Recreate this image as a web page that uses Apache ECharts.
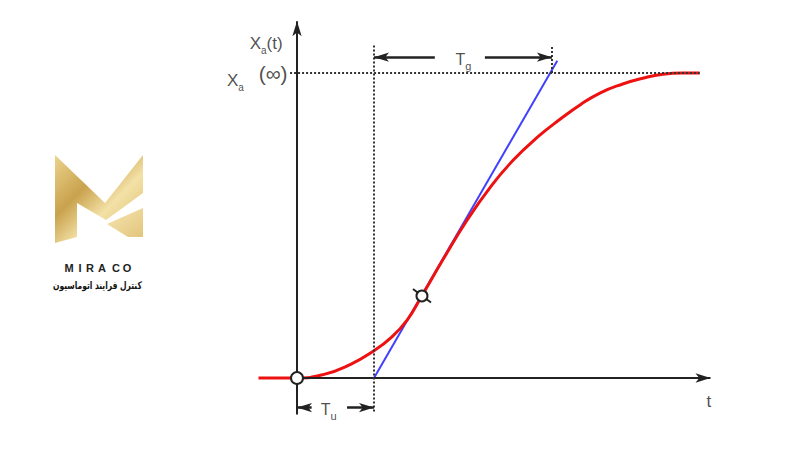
<!DOCTYPE html>
<html>
<head>
<meta charset="utf-8">
<script src="https://cdn.jsdelivr.net/npm/echarts@6/dist/echarts.min.js"></script>
<style>html,body{margin:0;padding:0;background:#fff}#c{width:800px;height:450px}</style>
</head>
<body>
<div id="c"></div>
<script>
// Step response (normalised: Xa(inf) = 1, time unit = Tu)
const curveT = [-0.5, 0, 0.34, 0.69, 0.99, 1.21, 1.43, 1.62, 1.90, 2.21, 2.50, 2.80, 3.13, 3.42, 3.68, 3.94, 4.23, 4.49, 4.75, 5.01, 5.23];
const curveY = [0, 0, 0.011, 0.044, 0.088, 0.130, 0.190, 0.269, 0.390, 0.518, 0.622, 0.712, 0.791, 0.849, 0.896, 0.935, 0.964, 0.983, 0.996, 1.0, 1.0];
const tangentT = [1.0, 3.38];
const tangentY = [0, 1.04];
const inflection = [1.623, 0.269];
const Tu = 1.0;
const TgEnd = 3.31;
const xInf = 1.0;
const labelT = [-0.40, -0.80, -0.31, 2.16, 0.41, 5.35];
const labelY = [1.105, 0.985, 1.0, 1.052, -0.097, -0.068];
const labelText = ['{b|X}{s|a}{b|(t)}', '{b|X}{s|a}', '{p|(\u221e)}', '{t|T}{ts|g}', '{t|T}{ts|u}', '{b|t}'];
const brandLetters = ['M', 'I', 'R', 'A', 'C', 'O'];
const brandX = [69, 80, 90, 102, 116, 127];

const ink = '#222';
const chart = echarts.init(document.getElementById('c'), null, {renderer: 'svg'});

const axisStyle = {color: ink, width: 2, type: 'solid'};
const dotStyle = {color: '#333', width: 2, type: [2, 2]};
const arrowStyle = {color: ink, width: 2.5, type: 'solid'};

function seg(a, b, style, sym) {
  return [{coord: a, symbol: sym[0], lineStyle: style}, {coord: b, symbol: sym[1]}];
}

const graphics = [
  {type: 'polygon', shape: {points: [[55,155],[105,203],[143,155],[143,193],[106,220],[77,203],[77,237],[55,243]]},
    style: {fill: new echarts.graphic.LinearGradient(0, 0, 1, 1, [
      {offset: 0, color: '#ecd48e'}, {offset: 0.35, color: '#c9a24d'}, {offset: 0.6, color: '#f3e1a6'}, {offset: 1, color: '#d8b664'}])}},
  {type: 'polygon', shape: {points: [[107,224],[143,208],[143,237],[128,237]]},
    style: {fill: new echarts.graphic.LinearGradient(0, 0, 1, 1, [
      {offset: 0, color: '#f6e6b4'}, {offset: 1, color: '#e2c57a'}])}},
  {type: 'text', left: 53, top: 280, scaleX: 0.72, originX: 53,
    style: {text: 'کنترل فرایند اتوماسیون', fontSize: 10.5, fontWeight: 'bold', fill: '#111', fontFamily: 'DejaVu Sans'}}
];
brandLetters.forEach((ch, i) => graphics.push({
  type: 'text', x: brandX[i], y: 268,
  style: {text: ch, fontSize: 11, fontWeight: 'bold', fill: '#222', fontFamily: 'Liberation Sans', textAlign: 'center', textVerticalAlign: 'middle'}
}));

const option = {
  animation: false,
  backgroundColor: '#fff',
  grid: {left: 220, right: 79.5, top: 12, bottom: 11},
  xAxis: {type: 'value', min: -1.0, max: 5.5, show: false},
  yAxis: {type: 'value', min: -0.2, max: 1.2, show: false},
  graphic: graphics,
  series: [
    {
      name: 'guides', type: 'line', data: [], silent: true,
      markLine: {
        silent: true, symbolSize: [7, 15], label: {show: false}, animation: false,
        data: [
          seg([0, -0.12], [0, 1.17], axisStyle, ['none', 'arrow']),
          seg([0, 0], [5.37, 0], axisStyle, ['none', 'arrow']),
          seg([-0.09, xInf], [5.23, xInf], dotStyle, ['none', 'none']),
          seg([Tu, -0.11], [Tu, 1.092], dotStyle, ['none', 'none']),
          seg([TgEnd, xInf], [TgEnd, 1.092], dotStyle, ['none', 'none']),
          seg([1.79, 1.052], [Tu, 1.052], arrowStyle, ['none', 'arrow']),
          seg([2.44, 1.052], [TgEnd, 1.052], arrowStyle, ['none', 'arrow']),
          seg([0.19, -0.097], [0, -0.097], arrowStyle, ['none', 'arrow']),
          seg([0.65, -0.097], [Tu, -0.097], arrowStyle, ['none', 'arrow'])
        ]
      }
    },
    {
      name: 'tangent', type: 'line', showSymbol: false, z: 3,
      data: tangentT.map((t, i) => [t, tangentY[i]]),
      lineStyle: {color: '#4040ff', width: 2}
    },
    {
      name: 'response', type: 'line', showSymbol: false, smooth: 0.5, z: 4,
      data: curveT.map((t, i) => [t, curveY[i]]),
      lineStyle: {color: '#ee1111', width: 3}
    },
    {
      name: 'origin', type: 'scatter', z: 6,
      data: [[0, 0]], symbol: 'circle', symbolSize: 12,
      itemStyle: {color: '#fff', borderColor: ink, borderWidth: 2, opacity: 1}
    },
    {
      name: 'inflection', type: 'custom', z: 6,
      data: [inflection],
      renderItem: function (params, api) {
        const p = api.coord([api.value(0), api.value(1)]);
        return {type: 'group', children: [
          {type: 'line', shape: {x1: p[0] - 9, y1: p[1] - 7, x2: p[0] + 9, y2: p[1] + 6.5}, style: {stroke: ink, lineWidth: 2}},
          {type: 'circle', shape: {cx: p[0], cy: p[1], r: 5.5}, style: {fill: '#fff', stroke: ink, lineWidth: 2}}
        ]};
      }
    },
    {
      name: 'labels', type: 'scatter', symbolSize: 0, z: 7, clip: false,
      data: labelT.map((t, i) => ({value: [t, labelY[i]], name: labelText[i]})),
      label: {
        show: true, position: 'inside', color: ink, fontFamily: 'Liberation Sans',
        formatter: p => p.name,
        rich: {
          b: {fontSize: 17, color: ink, fontFamily: 'Liberation Sans', lineHeight: 22, verticalAlign: 'bottom'},
          s: {fontSize: 10, color: ink, fontFamily: 'Liberation Sans', lineHeight: 22, verticalAlign: 'bottom', padding: [0, 0, -4, 0]},
          p: {fontSize: 21, color: ink, fontFamily: 'Liberation Sans', lineHeight: 24},
          t: {fontSize: 16, color: ink, fontFamily: 'Liberation Sans', lineHeight: 20, verticalAlign: 'bottom'},
          ts: {fontSize: 11, color: ink, fontFamily: 'Liberation Sans', lineHeight: 20, verticalAlign: 'bottom', padding: [0, 0, -4, 0]}
        }
      }
    }
  ]
};
chart.setOption(option);
</script>
</body>
</html>
